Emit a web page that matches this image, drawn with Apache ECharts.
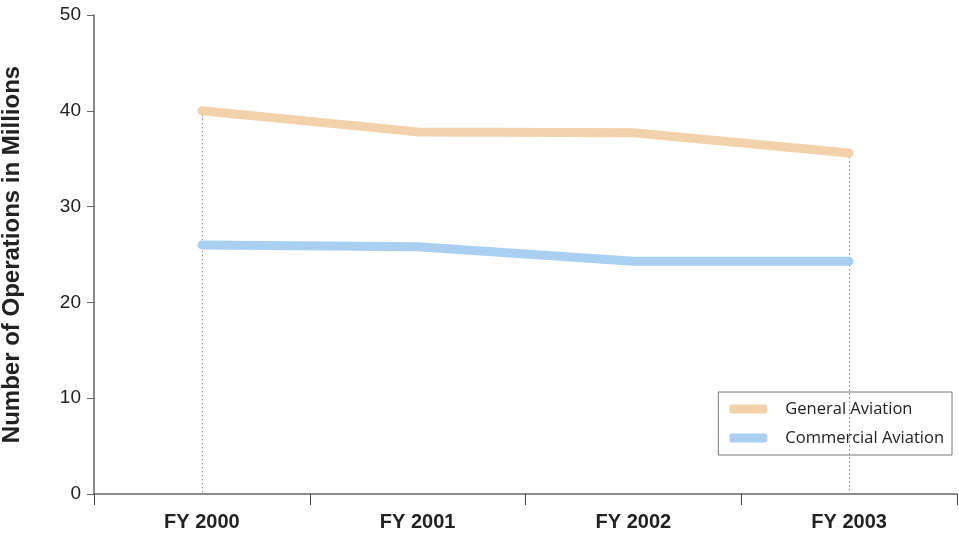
<!DOCTYPE html>
<html>
<head>
<meta charset="utf-8">
<script src="https://cdn.jsdelivr.net/npm/echarts@6/dist/echarts.min.js"></script>
<style>
html,body{margin:0;padding:0;background:#fff;}
#main{width:959px;height:538px;}
</style>
</head>
<body>
<div id="main"></div>
<script>
var years = ['FY 2000', 'FY 2001', 'FY 2002', 'FY 2003'];
var generalAviation = [40.0, 37.8, 37.7, 35.6];
var commercialAviation = [26.0, 25.8, 24.3, 24.3];
var yTicks = [0, 10, 20, 30, 40, 50];

var chart = echarts.init(document.getElementById('main'));

// 虚线参考线（首尾年份）
var dropLines = [
	[{coord: [years[0], generalAviation[0]]}, {coord: [years[0], 0]}],
	[{coord: [years[3], generalAviation[3]]}, {coord: [years[3], 0]}]
];

var option = {
	animation: false,
	grid: {left: 94, right: 2, top: 15, bottom: 44, outerBoundsMode: 'none', containLabel: false},
	legend: {
		orient: 'vertical',
		right: 7,
		top: 392,
		padding: [8, 8, 8, 11],
		itemGap: 11,
		itemWidth: 38,
		itemHeight: 9,
		icon: 'roundRect',
		borderColor: '#777',
		borderWidth: 1,
		borderRadius: 0,
		textStyle: {fontFamily: 'Open Sans', fontSize: 16.5, color: '#222', lineHeight: 18, padding: [0, 0, 0, 13]},
		data: ['General Aviation', 'Commercial Aviation']
	},
	xAxis: {
		type: 'category',
		data: years,
		boundaryGap: true,
		axisLine: {lineStyle: {color: '#666', width: 1.5}},
		axisTick: {show: true, length: 11, lineStyle: {color: '#444', width: 1}},
		axisLabel: {fontFamily: 'Liberation Sans', fontWeight: 'bold', fontSize: 20, color: '#222', margin: 18},
		splitLine: {show: false}
	},
	yAxis: {
		type: 'value',
		min: yTicks[0],
		max: yTicks[yTicks.length - 1],
		interval: 10,
		name: 'Number of Operations in Millions',
		nameLocation: 'middle',
		nameGap: 70,
		nameTextStyle: {fontFamily: 'Liberation Sans', fontWeight: 'bold', fontSize: 24, color: '#222'},
		axisLine: {show: true, lineStyle: {color: '#666', width: 1.5}},
		axisTick: {show: true, length: 7, lineStyle: {color: '#666'}},
		axisLabel: {fontFamily: 'Liberation Sans', fontSize: 19, color: '#222', margin: 13},
		splitLine: {show: false}
	},
	series: [{
		name: 'General Aviation',
		type: 'line',
		data: generalAviation,
		symbol: 'none',
		color: '#F2D2AA',
		lineStyle: {width: 9, color: '#F2D2AA', cap: 'round', join: 'round'},
		z: 3,
		markLine: {
			silent: true,
			symbol: 'none',
			label: {show: false},
			lineStyle: {color: '#888', type: [1.5, 2.5], width: 1},
			data: dropLines,
			z: 1
		}
	}, {
		name: 'Commercial Aviation',
		type: 'line',
		data: commercialAviation,
		symbol: 'none',
		color: '#A9CFF1',
		lineStyle: {width: 9, color: '#A9CFF1', cap: 'round', join: 'round'},
		z: 4
	}]
};

chart.setOption(option);
</script>
</body>
</html>
